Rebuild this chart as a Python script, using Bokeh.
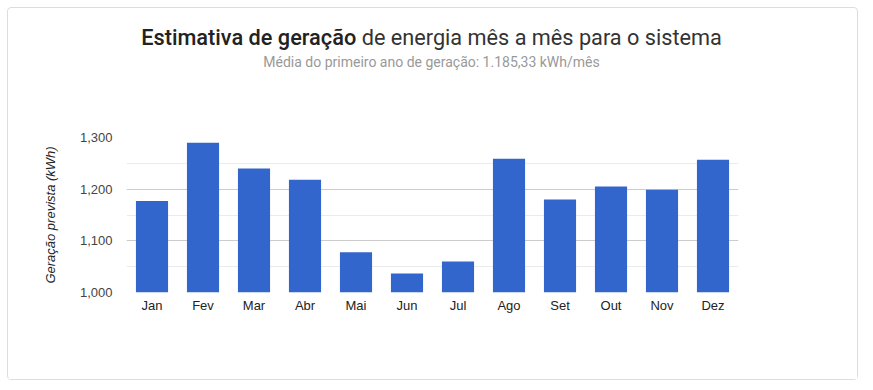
from bokeh.plotting import figure
from bokeh.models import FixedTicker, ColumnDataSource, Range1d, Div, CustomJSTickFormatter
from bokeh.layouts import column
from bokeh.embed import file_html
from bokeh.resources import INLINE

months = ["Jan", "Fev", "Mar", "Abr", "Mai", "Jun", "Jul", "Ago", "Set", "Out", "Nov", "Dez"]
generation = [1177, 1290, 1240, 1218, 1078, 1037, 1060, 1259, 1180, 1205, 1199, 1257]
y_ticks = [1000, 1100, 1200, 1300]
y_minor = [1050, 1150, 1250]
title_bold = "Estimativa de geração"
title_rest = " de energia mês a mês para o sistema"
subtitle = "Média do primeiro ano de geração: 1.185,33 kWh/mês"
y_label = "Geração prevista (kWh)"

src = ColumnDataSource(data=dict(m=months, g=generation))

head = Div(width=839, height=70, text=(
    '<div style="width:837px;text-align:center;font-family:Roboto;">'
    '<div style="font-size:21.7px;color:#333333;padding-top:13px;line-height:24px;">'
    f'<span style="font-family:\'Roboto Medium\', Roboto;font-weight:normal;color:#222222;">{title_bold}</span>{title_rest}</div>'
    '<div style="font-size:14px;color:#999999;margin-top:4px;line-height:16px;">'
    f'{subtitle}</div></div>'))

p = figure(x_range=months, y_range=Range1d(1000, 1300), width=849, height=291,
           output_backend="svg", toolbar_location=None,
           min_border_left=118, min_border_right=119, min_border_top=49, min_border_bottom=87)
p.outline_line_color = None
p.background_fill_color = "white"
p.border_fill_color = "white"

p.vbar(x="m", top="g", bottom=1000, width=0.63, source=src, color="#3366cc", line_color=None)

p.yaxis.ticker = FixedTicker(ticks=y_ticks, minor_ticks=y_minor)
p.yaxis.formatter = CustomJSTickFormatter(code="return tick.toLocaleString('en-US');")
p.yaxis.axis_line_color = None
p.yaxis.major_tick_line_color = None
p.yaxis.minor_tick_line_color = None
p.yaxis.major_tick_out = 0
p.yaxis.minor_tick_out = 0
p.yaxis.major_label_text_font = "Liberation Sans"
p.yaxis.major_label_text_font_size = "13px"
p.yaxis.major_label_text_color = "#444444"
p.yaxis.major_label_standoff = 14
p.yaxis.axis_label = y_label
p.yaxis.axis_label_text_font = "Liberation Sans"
p.yaxis.axis_label_text_font_size = "13px"
p.yaxis.axis_label_text_font_style = "italic"
p.yaxis.axis_label_text_color = "#222222"
p.yaxis.axis_label_standoff = 19

p.xaxis.axis_line_color = None
p.xaxis.major_tick_line_color = None
p.xaxis.minor_tick_line_color = None
p.xaxis.major_tick_out = 0
p.xaxis.major_label_text_font = "Liberation Sans"
p.xaxis.major_label_text_font_size = "13px"
p.xaxis.major_label_text_color = "#222222"
p.xaxis.major_label_standoff = 5

p.xgrid.grid_line_color = None
p.ygrid.grid_line_color = "#cccccc"
p.ygrid.minor_grid_line_color = "#ebebeb"

layout = column(head, p, spacing=0,
                styles={"border": "1px solid #dddddd", "border-radius": "4px",
                        "margin-left": "7px", "margin-top": "7px", "background": "white"})

open("out.html", "w").write(file_html(layout, INLINE))
